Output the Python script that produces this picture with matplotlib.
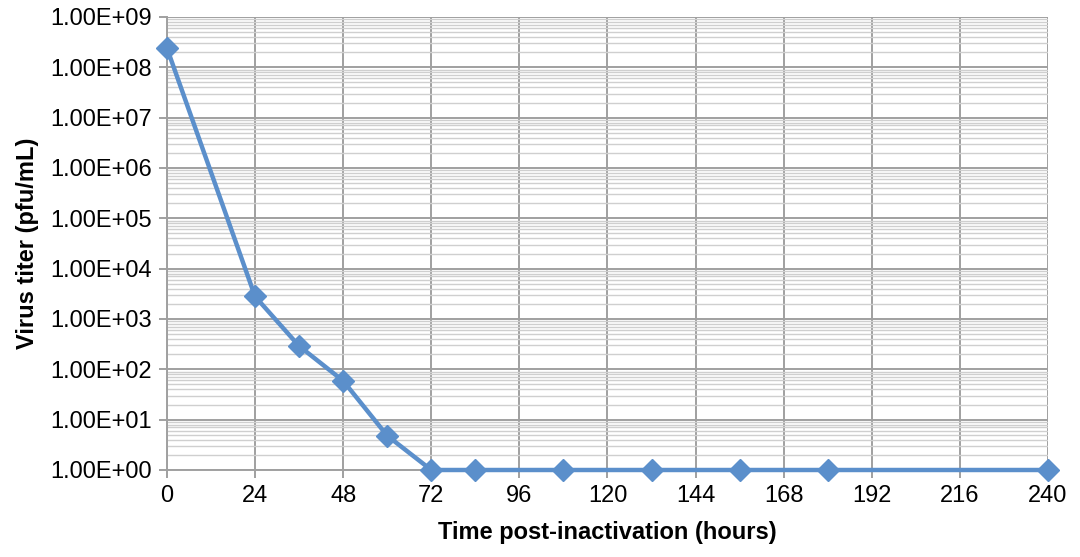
import matplotlib
matplotlib.use('Agg')
import matplotlib.pyplot as plt
from matplotlib.ticker import FixedLocator, LogLocator, NullFormatter

plt.rcParams['font.family'] = ['Liberation Sans', 'DejaVu Sans']

# 数据
hours = [0, 24, 36, 48, 60, 72, 84, 108, 132, 156, 180, 240]
titer = [2.4e8, 2.8e3, 2.9e2, 5.9e1, 4.8, 1, 1, 1, 1, 1, 1, 1]
x_ticks = list(range(0, 241, 24))
y_ticks = [10.0**k for k in range(0, 10)]
y_labels = ['1.00E+%02d' % k for k in range(0, 10)]

fig = plt.figure(figsize=(10.8, 5.57), dpi=100)
ax = fig.add_axes([0.1546, 0.1562, 0.8158, 0.8133])

ax.set_yscale('log')
ax.set_xlim(0, 240)
ax.set_ylim(1, 1e9)

ax.xaxis.set_major_locator(FixedLocator(x_ticks))
ax.yaxis.set_major_locator(FixedLocator(y_ticks))
ax.set_yticklabels(y_labels)
ax.yaxis.set_minor_locator(LogLocator(base=10, subs=range(2, 10), numticks=100))
ax.yaxis.set_minor_formatter(NullFormatter())

# 网格
ax.grid(which='major', axis='both', color='#a0a0a0', linewidth=1.4)
ax.grid(which='minor', axis='y', color='#cfcfcf', linewidth=1.0)
ax.set_axisbelow(True)

ax.plot(hours, titer, color='#5b8fcb', linewidth=3.2, marker='D',
        markersize=11, markeredgecolor='#5b8fcb', clip_on=False, zorder=3)

for s in ['top', 'right']:
    ax.spines[s].set_color('none')
for s in ['left', 'bottom']:
    ax.spines[s].set_color('#a0a0a0')
    ax.spines[s].set_linewidth(1.4)

ax.tick_params(which='major', direction='out', length=6, width=1.4,
               color='#a0a0a0', labelsize=17, labelcolor='black', pad=5)
ax.tick_params(which='minor', length=0)

ax.set_xlabel('Time post-inactivation (hours)', fontsize=17, fontweight='bold', labelpad=10)
ax.set_ylabel('Virus titer (pfu/mL)', fontsize=17, fontweight='bold', labelpad=8)

fig.savefig('out.png', dpi=100)
